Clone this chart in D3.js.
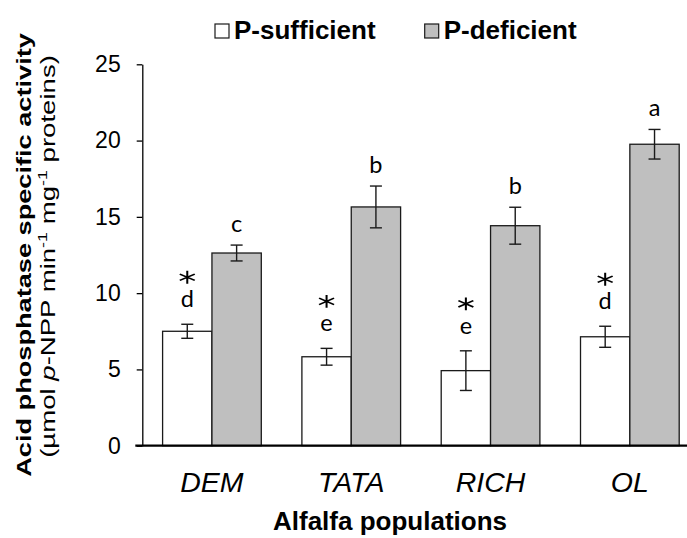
<!DOCTYPE html>
<html>
<head>
<meta charset="utf-8">
<script src="https://cdn.jsdelivr.net/npm/d3@7"></script>
<style>
	html, body { margin: 0; padding: 0; background: #fff; }
	svg { display: block; }
</style>
</head>
<body>
<div id="chart"></div>
<script>
'use strict';

// values
const populations = ['DEM', 'TATA', 'RICH', 'OL'];
const seriesNames = ['P-sufficient', 'P-deficient'];
const seriesFill = ['#ffffff', '#bfbfbf'];
const sufficient = [7.50, 5.83, 4.92, 7.14];
const sufficientErr = [0.46, 0.55, 1.30, 0.69];
const deficient = [12.63, 15.65, 14.42, 19.76];
const deficientErr = [0.52, 1.37, 1.21, 0.97];
const sufficientLetters = ['d', 'e', 'e', 'd'];
const deficientLetters = ['c', 'b', 'b', 'a'];
const sufficientStars = [true, true, true, true];
const deficientStars = [false, false, false, false];
const yTicks = [0, 5, 10, 15, 20, 25];

const width = 687;
const height = 538;
const plotLeft = 142.3;
const plotTop = 64.3;
const plotBottom = 445.7;

const svg = d3.select('#chart').append('svg')
	.attr('width', width)
	.attr('height', height);

const x = d3.scaleBand()
	.domain(populations)
	.range([plotLeft, plotLeft + 557.2])
	.paddingInner(0.2915)
	.paddingOuter(0.1457);

const xInner = d3.scaleBand()
	.domain(seriesNames)
	.range([0, x.bandwidth()]);

const y = d3.scaleLinear()
	.domain([0, 25])
	.range([plotBottom, plotTop]);

const rows = [];
populations.forEach(function(p, i) {
	rows.push({pop: p, s: 0, value: sufficient[i], err: sufficientErr[i], letter: sufficientLetters[i], star: sufficientStars[i]});
	rows.push({pop: p, s: 1, value: deficient[i], err: deficientErr[i], letter: deficientLetters[i], star: deficientStars[i]});
});

function barX(d) { return x(d.pop) + xInner(seriesNames[d.s]); }
function barMid(d) { return barX(d) + xInner.bandwidth() / 2; }

// y axis
const yAxis = svg.append('g')
	.attr('transform', `translate(${plotLeft},0)`)
	.call(d3.axisLeft(y).tickValues(yTicks).tickSize(5.6).tickSizeOuter(0).tickPadding(16));
yAxis.select('.domain').attr('stroke', '#000').attr('stroke-width', 1.3);
yAxis.selectAll('.tick line').attr('stroke', '#000').attr('stroke-width', 1.3);
yAxis.selectAll('.tick text')
	.attr('font-family', 'Liberation Sans, Arial, sans-serif')
	.attr('font-size', 23)
	.attr('fill', '#000');

// bars
svg.append('g').selectAll('rect')
	.data(rows)
	.enter().append('rect')
	.attr('x', barX)
	.attr('y', d => y(d.value))
	.attr('width', xInner.bandwidth())
	.attr('height', d => y(0) - y(d.value))
	.attr('fill', d => seriesFill[d.s])
	.attr('stroke', '#1a1a1a')
	.attr('stroke-width', 1.3);

// x axis line (no ticks)
svg.append('line')
	.attr('x1', plotLeft - 7)
	.attr('x2', plotLeft + 557.2)
	.attr('y1', y(0))
	.attr('y2', y(0))
	.attr('stroke', '#000')
	.attr('stroke-width', 2.2);

// error bars
const err = svg.append('g').attr('stroke', '#1a1a1a').attr('stroke-width', 1.4);
const capHalf = 6;
err.selectAll('line.v')
	.data(rows)
	.enter().append('line')
	.attr('class', 'v')
	.attr('x1', barMid).attr('x2', barMid)
	.attr('y1', d => y(d.value + d.err))
	.attr('y2', d => y(d.value - d.err));
err.selectAll('line.t')
	.data(rows)
	.enter().append('line')
	.attr('class', 't')
	.attr('x1', d => barMid(d) - capHalf).attr('x2', d => barMid(d) + capHalf)
	.attr('y1', d => y(d.value + d.err)).attr('y2', d => y(d.value + d.err));
err.selectAll('line.b')
	.data(rows)
	.enter().append('line')
	.attr('class', 'b')
	.attr('x1', d => barMid(d) - capHalf).attr('x2', d => barMid(d) + capHalf)
	.attr('y1', d => y(d.value - d.err)).attr('y2', d => y(d.value - d.err));

// significance letters
function letterBase(d) { return y(d.value + d.err) - (d.s === 0 ? 17 : 13); }
svg.append('g').selectAll('text')
	.data(rows)
	.enter().append('text')
	.attr('x', barMid)
	.attr('y', letterBase)
	.attr('text-anchor', 'middle')
	.attr('font-family', 'Lato, Open Sans, sans-serif')
	.attr('font-size', 23.5)
	.attr('fill', '#000')
	.text(d => d.letter);

svg.append('g').selectAll('path')
	.data(rows.filter(d => d.star))
	.enter().append('path')
	.attr('d', d3.symbol(d3.symbolAsterisk, 115))
	.attr('transform', d => `translate(${barMid(d)},${letterBase(d) - 30}) scale(1.35,1)`)
	.attr('fill', 'none')
	.attr('stroke', '#000')
	.attr('stroke-width', 1.5);

// category labels
svg.append('g').selectAll('text')
	.data(populations)
	.enter().append('text')
	.attr('x', d => x(d) + x.bandwidth() / 2)
	.attr('y', 491.7)
	.attr('text-anchor', 'middle')
	.attr('font-family', 'Liberation Sans, Arial, sans-serif')
	.attr('font-style', 'italic')
	.attr('font-size', 28.5)
	.attr('fill', '#000')
	.text(d => d);

// x title
svg.append('text')
	.attr('x', 390)
	.attr('y', 530)
	.attr('text-anchor', 'middle')
	.attr('font-family', 'Liberation Sans, Arial, sans-serif')
	.attr('font-weight', 'bold')
	.attr('font-size', 26)
	.text('Alfalfa populations');

// y title, two lines, stretched along the axis like the original
function stretchedTitle(tx, ty, len) {
	const t = svg.append('text')
		.attr('text-anchor', 'middle')
		.attr('font-family', 'Liberation Sans, Arial, sans-serif')
		.attr('fill', '#000');
	return {node: t, place: function() {
		const natural = t.node().getComputedTextLength();
		t.attr('transform', `translate(${tx},${ty}) rotate(-90) scale(${len / natural},1)`);
	}};
}

const t1 = stretchedTitle(31, 255, 444);
t1.node.attr('font-weight', 'bold').attr('font-size', 21).text('Acid phosphatase specific activity');
t1.place();

const t2 = stretchedTitle(55, 256.5, 403);
t2.node.attr('font-size', 20);
t2.node.append('tspan').text('(µmol ');
t2.node.append('tspan').attr('font-style', 'italic').text('p');
t2.node.append('tspan').text('-NPP min');
t2.node.append('tspan').attr('font-size', 13).attr('dy', -8).text('-1');
t2.node.append('tspan').attr('dy', 8).text(' mg');
t2.node.append('tspan').attr('font-size', 13).attr('dy', -8).text('-1');
t2.node.append('tspan').attr('dy', 8).text(' proteins)');
t2.place();

// legend
const legend = svg.append('g')
	.attr('font-family', 'Liberation Sans, Arial, sans-serif')
	.attr('font-weight', 'bold')
	.attr('font-size', 26);
const legendX = [215, 424.7];
seriesNames.forEach(function(name, i) {
	legend.append('rect')
		.attr('x', legendX[i])
		.attr('y', 24)
		.attr('width', 14)
		.attr('height', 14)
		.attr('fill', seriesFill[i])
		.attr('stroke', '#1a1a1a')
		.attr('stroke-width', 1.2);
	legend.append('text')
		.attr('x', legendX[i] + 19)
		.attr('y', 39)
		.text(name);
});
</script>
</body>
</html>
